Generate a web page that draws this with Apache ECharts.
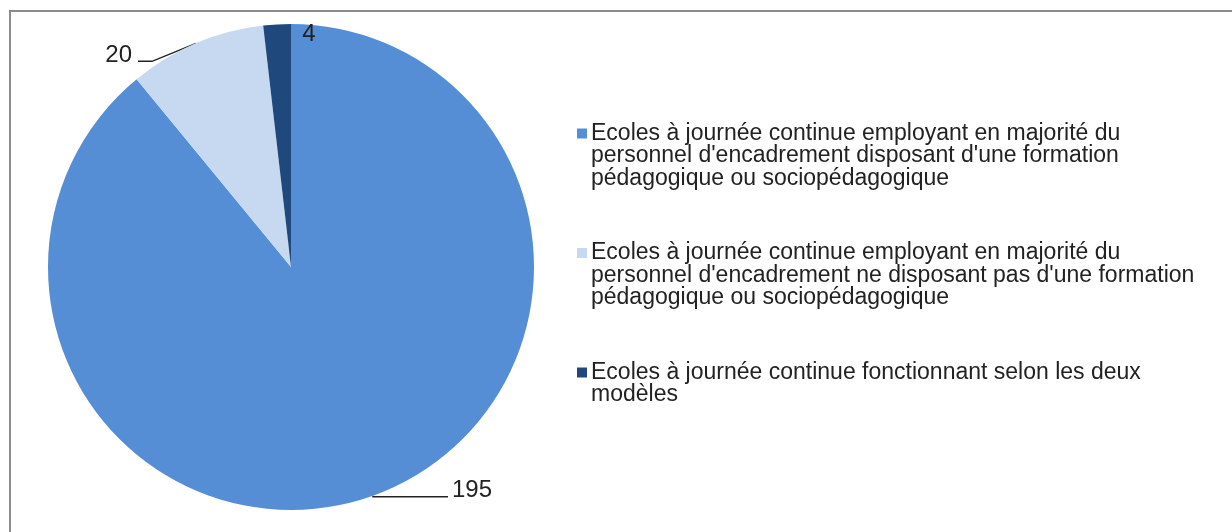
<!DOCTYPE html>
<html>
<head>
<meta charset="utf-8">
<script src="https://cdn.jsdelivr.net/npm/echarts@6/dist/echarts.min.js"></script>
<style>
  html, body { margin: 0; padding: 0; background: #fff; overflow: hidden; }
  #chart { position: absolute; left: 0; top: 0; width: 1232px; height: 532px; }
  .frame { position: absolute; left: 9px; top: 10px; width: 1300px; height: 600px;
           border-left: 2px solid #8c8c8c; border-top: 2px solid #8c8c8c; pointer-events: none; }
</style>
</head>
<body>
<div id="chart"></div>
<div class="frame"></div>
<script>
// écoles à journée continue - répartition selon le personnel d'encadrement
const categories = [
  "Ecoles à journée continue employant en majorité du personnel d'encadrement disposant d'une formation pédagogique ou sociopédagogique",
  "Ecoles à journée continue employant en majorité du personnel d'encadrement ne disposant pas d'une formation pédagogique ou sociopédagogique",
  'Ecoles à journée continue fonctionnant selon les deux modèles'
]
const legendLines = [
  ['Ecoles à journée continue employant en majorité du', "personnel d'encadrement disposant d'une formation", 'pédagogique ou sociopédagogique'],
  ['Ecoles à journée continue employant en majorité du', "personnel d'encadrement ne disposant pas d'une formation", 'pédagogique ou sociopédagogique'],
  ['Ecoles à journée continue fonctionnant selon les deux', 'modèles']
]
const values = [195, 20, 4]
const colors = ['#558ED5', '#C6D9F1', '#1F497D']

const chart = echarts.init(document.getElementById('chart'))

const options = {
  animation: false,
  color: colors,
  legend: {
    orient: 'vertical',
    left: 572,
    top: 122,
    padding: 0,
    itemGap: 51.5,
    itemWidth: 0,
    itemHeight: 0,
    itemStyle: { opacity: 0 },
    data: categories,
    formatter: name => {
      const i = categories.indexOf(name)
      return legendLines[i].map((line, j) =>
        (j === 0 ? '{sq' + i + '|}{gap|}' : '{pad|}') + '{t|' + line + '}'
      ).join('\n')
    },
    textStyle: {
      rich: {
        sq0: { width: 10, height: 10, backgroundColor: colors[0] },
        sq1: { width: 10, height: 10, backgroundColor: colors[1] },
        sq2: { width: 10, height: 10, backgroundColor: colors[2] },
        gap: { width: 4 },
        pad: { width: 14 },
        t: {
          fontFamily: 'Liberation Sans, Arial, sans-serif',
          fontSize: 23,
          lineHeight: 22.5,
          color: '#222'
        }
      }
    }
  },
  series: [
    {
      type: 'pie',
      center: [291, 267],
      radius: 243,
      startAngle: 90,
      clockwise: true,
      avoidLabelOverlap: false,
      itemStyle: { borderWidth: 0 },
      label: {
        position: 'outside',
        formatter: '{c}',
        fontFamily: 'Liberation Sans, Arial, sans-serif',
        fontSize: 24,
        color: '#222'
      },
      labelLine: {
        length: 1,
        length2: 70,
        lineStyle: { color: '#222', width: 1.5 }
      },
      // placement à la Excel : texte calé sur la ligne de rappel
      labelLayout: params => {
        const pts = params.labelLinePoints
        if (params.dataIndex === 0 && pts) {
          const p0 = pts[0]
          const end = [p0[0] + 75, p0[1] + 1]
          return {
            x: end[0] + 4, y: end[1] - 6, align: 'left', verticalAlign: 'middle',
            labelLinePoints: [p0, [p0[0], p0[1] + 1], end]
          }
        }
        if (params.dataIndex === 1 && pts) {
          const p0 = pts[0]
          const bend = [p0[0] - 44, p0[1] + 18]
          const end = [bend[0] - 14, bend[1]]
          return {
            x: end[0] - 6, y: end[1] - 6, align: 'right', verticalAlign: 'middle',
            labelLinePoints: [p0, bend, end]
          }
        }
        if (params.dataIndex === 2) {
          const r = params.rect
          return {
            x: r.x + r.width + 18, y: r.y + 10, align: 'center', verticalAlign: 'middle'
          }
        }
        return {}
      },
      data: values.map((v, i) => {
        const item = { name: categories[i], value: v }
        if (i === 2) item.labelLine = { show: false }
        return item
      })
    }
  ]
}

chart.setOption(options)
</script>
</body>
</html>
